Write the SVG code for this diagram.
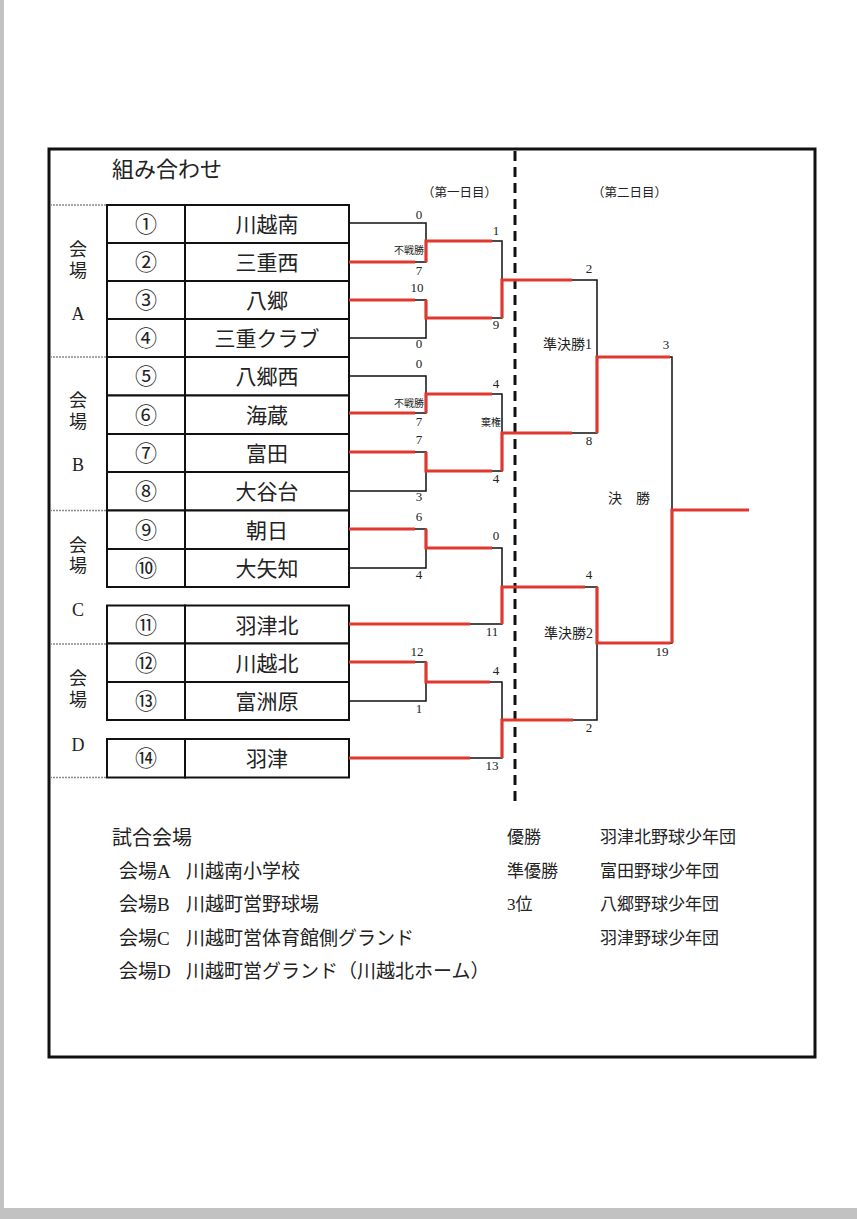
<svg xmlns="http://www.w3.org/2000/svg" width="857" height="1219" viewBox="0 0 857 1219">
<style>
  text { font-family: "Liberation Serif", "Noto Sans CJK JP", serif; fill: #222; }
  .cell { fill: #fff; stroke: #111; stroke-width: 2; }
  .num { font-size: 22px; text-anchor: middle; }
  .name { font-size: 21px; text-anchor: middle; }
  .venue { font-size: 18px; text-anchor: middle; }
  .sc { font-size: 13px; text-anchor: middle; }
  .small { font-size: 10px; text-anchor: end; }
  .rnd { font-size: 14px; text-anchor: end; }
  .day { font-size: 12.5px; }
  .info { font-size: 19px; }
  .res { font-size: 17px; }
  .blk { fill: none; stroke: #111; stroke-width: 1.5; }
  .red { fill: none; stroke: #e0382e; stroke-width: 3.2; }
  .sep { stroke: #8a8a8a; stroke-width: 1.5; stroke-dasharray: 2 1; }
</style>
<rect x="0" y="0" width="857" height="1219" fill="#fff"/>
<rect x="0" y="0" width="4" height="1219" fill="#c2c2c2"/>
<rect x="0" y="1208" width="857" height="11" fill="#c2c2c2"/>
<rect x="49" y="149" width="766" height="908" fill="none" stroke="#111" stroke-width="3"/>
<line x1="515" y1="151" x2="515" y2="803" stroke="#111" stroke-width="3" stroke-dasharray="10 6"/>

<text x="112" y="177" style="font-size:22px">組み合わせ</text>
<text x="422" y="197" class="day">（第一日目）</text>
<text x="592" y="197" class="day">（第二日目）</text>

<g id="venue-separators">
  <line x1="50" y1="205" x2="107" y2="205" class="sep"/>
  <line x1="50" y1="357" x2="107" y2="357" class="sep"/>
  <line x1="50" y1="510.5" x2="107" y2="510.5" class="sep"/>
  <line x1="50" y1="644" x2="107" y2="644" class="sep"/>
  <line x1="50" y1="777.5" x2="107" y2="777.5" class="sep"/>
</g>
<g id="venue-A"><text x="78" y="256" class="venue">会</text><text x="78" y="277" class="venue">場</text><text x="78" y="320" class="venue">A</text></g>
<g id="venue-B"><text x="78" y="407" class="venue">会</text><text x="78" y="428" class="venue">場</text><text x="78" y="471" class="venue">B</text></g>
<g id="venue-C"><text x="78" y="552" class="venue">会</text><text x="78" y="572" class="venue">場</text><text x="78" y="616" class="venue">C</text></g>
<g id="venue-D"><text x="78" y="685" class="venue">会</text><text x="78" y="706" class="venue">場</text><text x="78" y="751" class="venue">D</text></g>

<g id="team-1"><rect x="107" y="205" width="78" height="38" class="cell"/><rect x="185" y="205" width="164" height="38" class="cell"/><text x="146" y="232" class="num">①</text><text x="267" y="232" class="name">川越南</text></g>
<g id="team-2"><rect x="107" y="243" width="78" height="38" class="cell"/><rect x="185" y="243" width="164" height="38" class="cell"/><text x="146" y="270" class="num">②</text><text x="267" y="270" class="name">三重西</text></g>
<g id="team-3"><rect x="107" y="281" width="78" height="38" class="cell"/><rect x="185" y="281" width="164" height="38" class="cell"/><text x="146" y="308" class="num">③</text><text x="267" y="308" class="name">八郷</text></g>
<g id="team-4"><rect x="107" y="319" width="78" height="38" class="cell"/><rect x="185" y="319" width="164" height="38" class="cell"/><text x="146" y="346" class="num">④</text><text x="267" y="346" class="name">三重クラブ</text></g>
<g id="team-5"><rect x="107" y="357" width="78" height="38.5" class="cell"/><rect x="185" y="357" width="164" height="38.5" class="cell"/><text x="146" y="384" class="num">⑤</text><text x="267" y="384" class="name">八郷西</text></g>
<g id="team-6"><rect x="107" y="395.5" width="78" height="38.5" class="cell"/><rect x="185" y="395.5" width="164" height="38.5" class="cell"/><text x="146" y="423" class="num">⑥</text><text x="267" y="423" class="name">海蔵</text></g>
<g id="team-7"><rect x="107" y="434" width="78" height="38" class="cell"/><rect x="185" y="434" width="164" height="38" class="cell"/><text x="146" y="461" class="num">⑦</text><text x="267" y="461" class="name">富田</text></g>
<g id="team-8"><rect x="107" y="472" width="78" height="38.5" class="cell"/><rect x="185" y="472" width="164" height="38.5" class="cell"/><text x="146" y="499" class="num">⑧</text><text x="267" y="499" class="name">大谷台</text></g>
<g id="team-9"><rect x="107" y="510.5" width="78" height="38.5" class="cell"/><rect x="185" y="510.5" width="164" height="38.5" class="cell"/><text x="146" y="538" class="num">⑨</text><text x="267" y="538" class="name">朝日</text></g>
<g id="team-10"><rect x="107" y="549" width="78" height="38" class="cell"/><rect x="185" y="549" width="164" height="38" class="cell"/><text x="146" y="576" class="num">⑩</text><text x="267" y="576" class="name">大矢知</text></g>
<g id="team-11"><rect x="107" y="605.5" width="78" height="38" class="cell"/><rect x="185" y="605.5" width="164" height="38" class="cell"/><text x="146" y="633" class="num">⑪</text><text x="267" y="633" class="name">羽津北</text></g>
<g id="team-12"><rect x="107" y="643.5" width="78" height="38.5" class="cell"/><rect x="185" y="643.5" width="164" height="38.5" class="cell"/><text x="146" y="671" class="num">⑫</text><text x="267" y="671" class="name">川越北</text></g>
<g id="team-13"><rect x="107" y="682" width="78" height="38" class="cell"/><rect x="185" y="682" width="164" height="38" class="cell"/><text x="146" y="709" class="num">⑬</text><text x="267" y="709" class="name">富洲原</text></g>
<g id="team-14"><rect x="107" y="739" width="78" height="38.5" class="cell"/><rect x="185" y="739" width="164" height="38.5" class="cell"/><text x="146" y="766" class="num">⑭</text><text x="267" y="766" class="name">羽津</text></g>

<g id="connectors">
  <g id="black-lines">
    <path class="blk" d="M349,223 H426 V262 H349"/>
    <path class="blk" d="M349,300 H426 V338 H349"/>
    <path class="blk" d="M349,376 H426 V413 H349"/>
    <path class="blk" d="M349,452 H426 V491 H349"/>
    <path class="blk" d="M349,529 H426 V568 H349"/>
    <path class="blk" d="M349,662 H426 V701 H349"/>
    <path class="blk" d="M426,241 H502 V318 H426"/>
    <path class="blk" d="M426,394 H502 V471 H426"/>
    <path class="blk" d="M426,548 H502 V624 H349"/>
    <path class="blk" d="M426,682 H502 V758 H349"/>
    <path class="blk" d="M502,280 H597 V433 H502"/>
    <path class="blk" d="M502,587 H597 V720 H502"/>
    <path class="blk" d="M597,357 H672 V643 H597"/>
  </g>
  <g id="red-lines">
    <path class="red" d="M349,262 H415"/>
    <path class="red" d="M426,262 V241 H492"/>
    <path class="red" d="M349,300 H415"/>
    <path class="red" d="M426,300 V318 H492"/>
    <path class="red" d="M502,318 V280 H572"/>
    <path class="red" d="M349,413 H415"/>
    <path class="red" d="M426,413 V394 H492"/>
    <path class="red" d="M349,452 H415"/>
    <path class="red" d="M426,452 V471 H492"/>
    <path class="red" d="M502,471 V433 H572"/>
    <path class="red" d="M349,529 H415"/>
    <path class="red" d="M426,529 V548 H492"/>
    <path class="red" d="M349,624 H470"/>
    <path class="red" d="M502,624 V587 H585"/>
    <path class="red" d="M349,662 H415"/>
    <path class="red" d="M426,662 V682 H490"/>
    <path class="red" d="M349,758 H470"/>
    <path class="red" d="M502,758 V720 H573"/>
    <path class="red" d="M597,433 V357 H670"/>
    <path class="red" d="M597,587 V643 H670"/>
    <path class="red" d="M672,643 V510 H749"/>
  </g>
</g>

<g id="scores">
  <text x="419" y="219" class="sc">0</text>
  <text x="424" y="254" class="small">不戦勝</text>
  <text x="419" y="275" class="sc">7</text>
  <text x="417" y="292" class="sc">10</text>
  <text x="419" y="348" class="sc">0</text>
  <text x="496" y="235" class="sc">1</text>
  <text x="496" y="329" class="sc">9</text>
  <text x="419" y="368" class="sc">0</text>
  <text x="424" y="407" class="small">不戦勝</text>
  <text x="419" y="426" class="sc">7</text>
  <text x="419" y="444" class="sc">7</text>
  <text x="419" y="501" class="sc">3</text>
  <text x="496" y="388" class="sc">4</text>
  <text x="501" y="426" class="small">棄権</text>
  <text x="496" y="483" class="sc">4</text>
  <text x="419" y="521" class="sc">6</text>
  <text x="419" y="579" class="sc">4</text>
  <text x="496" y="540" class="sc">0</text>
  <text x="492" y="636" class="sc">11</text>
  <text x="417" y="656" class="sc">12</text>
  <text x="419" y="713" class="sc">1</text>
  <text x="496" y="675" class="sc">4</text>
  <text x="492" y="770" class="sc">13</text>
  <text x="589" y="273" class="sc">2</text>
  <text x="592" y="349" class="rnd">準決勝1</text>
  <text x="589" y="445" class="sc">8</text>
  <text x="666" y="349" class="sc">3</text>
  <text x="608" y="503" style="font-size:14px">決　勝</text>
  <text x="589" y="579" class="sc">4</text>
  <text x="593" y="638" class="rnd">準決勝2</text>
  <text x="662" y="656" class="sc">19</text>
  <text x="589" y="732" class="sc">2</text>
</g>

<g id="venue-info">
  <text x="112" y="845" style="font-size:20px">試合会場</text>
  <text x="119" y="878" class="info">会場A</text><text x="186" y="878" class="info">川越南小学校</text>
  <text x="119" y="911" class="info">会場B</text><text x="186" y="911" class="info">川越町営野球場</text>
  <text x="119" y="945" class="info">会場C</text><text x="186" y="945" class="info">川越町営体育館側グランド</text>
  <text x="119" y="978" class="info">会場D</text><text x="186" y="978" class="info">川越町営グランド（川越北ホーム）</text>
</g>
<g id="results">
  <text x="507" y="843" class="res">優勝</text><text x="600" y="843" class="res">羽津北野球少年団</text>
  <text x="507" y="877" class="res">準優勝</text><text x="600" y="877" class="res">富田野球少年団</text>
  <text x="507" y="910" class="res">3位</text><text x="600" y="910" class="res">八郷野球少年団</text>
  <text x="600" y="944" class="res">羽津野球少年団</text>
</g>
</svg>
